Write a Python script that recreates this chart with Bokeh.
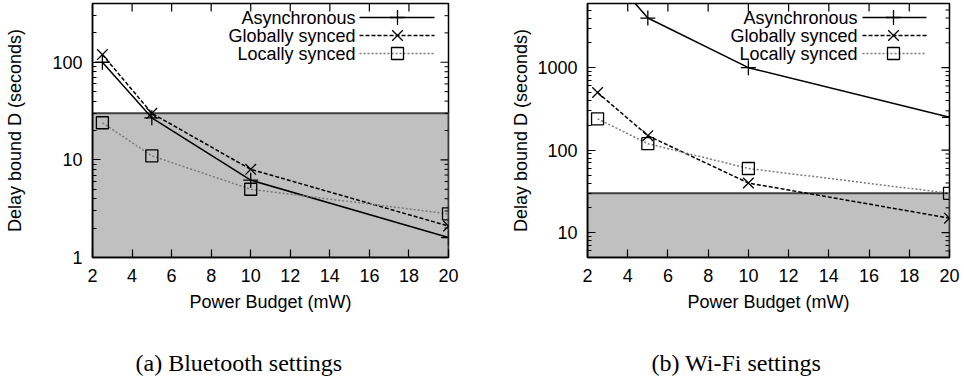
from bokeh.plotting import figure
from bokeh.models import (Range1d, LinearScale, FixedTicker, BoxAnnotation,
                          BasicTickFormatter)
from bokeh.layouts import row, column
from bokeh.embed import file_html
from bokeh.resources import INLINE
from bokeh.core.properties import value

# ---------------- data ----------------
power = [2.5, 5, 10, 20]
series_names = ["Asynchronous", "Globally synced", "Locally synced"]

bt_async = [100, 27, 6.2, 1.6]
bt_global = [120, 30, 8, 2.1]
bt_local = [24, 11, 5, 2.8]

wifi_async = [20000, 4000, 1000, 250]
wifi_global = [500, 150, 40, 15]
wifi_local = [240, 120, 60, 30]

deadline = 30  # shaded region: delay bound below 30 s

x_ticks = [2, 4, 6, 8, 10, 12, 14, 16, 18, 20]
bt_y_ticks = [1, 10, 100]
wifi_y_ticks = [10, 100, 1000]
bt_y_minor = [2, 3, 4, 5, 6, 7, 8, 9, 20, 30, 40, 50, 60, 70, 80, 90, 200, 300, 400]
wifi_y_minor = [6, 7, 8, 9, 20, 30, 40, 50, 60, 70, 80, 90,
                200, 300, 400, 500, 600, 700, 800, 900, 2000, 3000, 4000, 5000, 6000]

x_title = "Power Budget (mW)"
y_title = "Delay bound D (seconds)"
captions = ["(a) Bluetooth settings", "(b) Wi-Fi settings"]

# ---------------- styles ----------------
FONT = "Liberation Sans"
SERIF = "Liberation Serif"
styles = [
    dict(dash="solid", color="black", lw=1.5, marker="cross", size=15),
    dict(dash="4 2", color="black", lw=1.5, marker="x", size=15),
    dict(dash="2 2", color="#7a7a7a", lw=1.5, marker="square", size=12),
]
MAJ, MIN = 8, 4
PLOT_H = 340
CAP_H = 385 - PLOT_H


def make(ys, yrange, yticks, yminor, W, bl, br, leg, ylab_standoff):
    top, fh = 3, 254
    p = figure(width=W, height=PLOT_H, x_range=Range1d(2, 20), y_range=Range1d(*yrange),
               y_axis_type="log", output_backend="svg", toolbar_location=None,
               min_border_left=bl, min_border_right=br, min_border_top=top,
               min_border_bottom=PLOT_H - top - fh)
    fw = W - bl - br
    p.grid.visible = False
    p.outline_line_color = "black"
    p.outline_line_width = 1.5
    p.background_fill_color = "white"
    p.border_fill_color = "white"

    # pixel space of the frame (legend and mirrored ticks)
    p.extra_x_ranges = {"px": Range1d(0, fw)}
    p.extra_y_ranges = {"px": Range1d(0, fh)}
    p.extra_x_scales = {"px": LinearScale()}
    p.extra_y_scales = {"px": LinearScale()}

    xt = FixedTicker(ticks=x_ticks)
    yt = FixedTicker(ticks=yticks, minor_ticks=yminor)

    def style_axis(ax):
        ax.major_tick_in = MAJ
        ax.major_tick_out = 0
        ax.minor_tick_in = MIN
        ax.minor_tick_out = 0
        ax.major_tick_line_width = 1.2
        ax.minor_tick_line_width = 1.0
        ax.axis_line_width = 1.5
        ax.major_label_text_font = FONT
        ax.major_label_text_color = "black"
        ax.major_label_text_font_size = "18px"
        ax.axis_label_text_font = FONT
        ax.axis_label_text_font_style = "normal"
        ax.axis_label_text_font_size = "18px"
        ax.axis_label_text_color = "black"

    xa = p.xaxis[0]
    xa.ticker = xt
    xa.formatter = BasicTickFormatter()
    xa.axis_label = x_title
    style_axis(xa)
    xa.major_label_standoff = 11
    xa.axis_label_standoff = 7

    ya = p.yaxis[0]
    ya.ticker = yt
    ya.formatter = BasicTickFormatter(use_scientific=False)
    ya.axis_label = y_title
    style_axis(ya)
    ya.major_label_standoff = 10
    ya.axis_label_standoff = ylab_standoff

    # mirrored ticks on the top and right edges
    n = len(x_ticks)
    p.segment(x0=x_ticks, y0=[fh] * n, x1=x_ticks, y1=[fh - MAJ] * n,
              line_color="black", line_width=1.2, y_range_name="px")
    allmaj = list(yticks)
    p.segment(x0=[fw] * len(allmaj), y0=allmaj, x1=[fw - MAJ] * len(allmaj), y1=allmaj,
              line_color="black", line_width=1.2, x_range_name="px")
    p.segment(x0=[fw] * len(yminor), y0=yminor, x1=[fw - MIN] * len(yminor), y1=yminor,
              line_color="black", line_width=1.0, x_range_name="px")

    box = BoxAnnotation(top=deadline, fill_color="#c0c0c0", fill_alpha=1.0,
                        line_color="#404040", line_alpha=1.0, line_width=2,
                        level="underlay")
    p.add_layout(box)

    for name, y, st in zip(series_names, ys, styles):
        p.line(power, y, line_color=st["color"], line_width=st["lw"], line_dash=st["dash"])
        p.scatter(power, y, marker=st["marker"], size=st["size"], line_color="black",
                  line_width=1.3, fill_alpha=0)

    # legend (text right-aligned, sample to the right, as in gnuplot)
    tx, x0, x1, xm, rows = leg
    for name, st, ry in zip(series_names, styles, rows):
        p.text(x=[tx], y=[ry], text=[name], text_align="right", text_baseline="middle",
               text_font=value(FONT), text_font_size="18px", text_color="black",
               x_range_name="px", y_range_name="px")
        p.line([x0, x1], [ry, ry], line_color=st["color"], line_width=st["lw"],
               line_dash=st["dash"], x_range_name="px", y_range_name="px")
        p.scatter([xm], [ry], marker=st["marker"], size=st["size"], line_color="black",
                  line_width=1.3, fill_alpha=0, x_range_name="px", y_range_name="px")
    return p


legend_rows = [240, 222, 204]
p1 = make([bt_async, bt_global, bt_local], (1, 400), bt_y_ticks, bt_y_minor,
          482, 92, 34, (263, 267, 342, 305, legend_rows), 24)
p2 = make([wifi_async, wifi_global, wifi_local], (5, 6000), wifi_y_ticks, wifi_y_minor,
          482, 105, 15, (270, 275, 339, 306, legend_rows), 3)

# caption strip (pixel coordinates)
cap = figure(width=964, height=CAP_H, x_range=Range1d(0, 964), y_range=Range1d(0, CAP_H),
             output_backend="svg", toolbar_location=None, min_border=0)
cap.axis.visible = False
cap.grid.visible = False
cap.outline_line_color = None
cap.text(x=[135, 651], y=[CAP_H - 22, CAP_H - 22], text=captions, text_align="left",
         text_baseline="middle", text_font=value(SERIF), text_font_size="24px",
         text_color="black")

layout = column(row(p1, p2), cap)
open("out.html", "w").write(file_html(layout, INLINE))
